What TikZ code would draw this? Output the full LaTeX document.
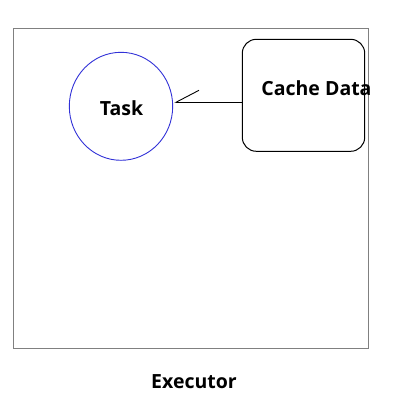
\documentclass[tikz,border=0pt]{standalone}
\usepackage{fontspec}
\setmainfont{Open Sans}
\usetikzlibrary{arrows.meta,positioning,calc,shapes.geometric}
\definecolor{frmgray}{RGB}{128,128,128}
\definecolor{taskblue}{RGB}{50,50,215}
\tikzset{
  frmblk/.style={draw=frmgray,rectangle,line width=1pt,minimum width=355.4pt,minimum height=319.6pt,inner sep=0pt},
  taskblk/.style={draw=taskblue,ellipse,line width=0.9pt,minimum width=103.4pt,minimum height=108pt,inner sep=0pt},
  cacheblk/.style={draw,rectangle,rounded corners=14pt,line width=1pt,minimum width=122.4pt,minimum height=112pt,inner sep=0pt},
  lbl/.style={font=\fontsize{19.5}{22}\selectfont\bfseries,inner sep=0pt},
  harp/.style={-{Straight Barb[harpoon,swap,length=23pt,width=24pt,line width=0.9pt]},line width=1pt,shorten >=1pt}
}
\begin{document}
\begin{tikzpicture}[x=1pt,y=-1pt]
  \useasboundingbox (0,0) rectangle (408,417);
  \node[frmblk] (frame) at (191,188.5) {};
  \node[taskblk] (task) at (121,106.3) {};
  \node[lbl] (tasktxt) at ($(task.center)+(0.5,1.5)$) {Task};
  \node[cacheblk] (cache) at (303.5,95.3) {};
  \node[lbl] (cachetxt) at ($(cache.center)+(13,-7)$) {Cache Data};

  \coordinate (lnk) at ([yshift=-7pt]cache.west);
  \draw[harp] (lnk) -- (lnk -| task.east);

  \node[lbl,below=33pt of frame.south,anchor=center,xshift=3pt] (exec) {Executor};
\end{tikzpicture}
\end{document}
